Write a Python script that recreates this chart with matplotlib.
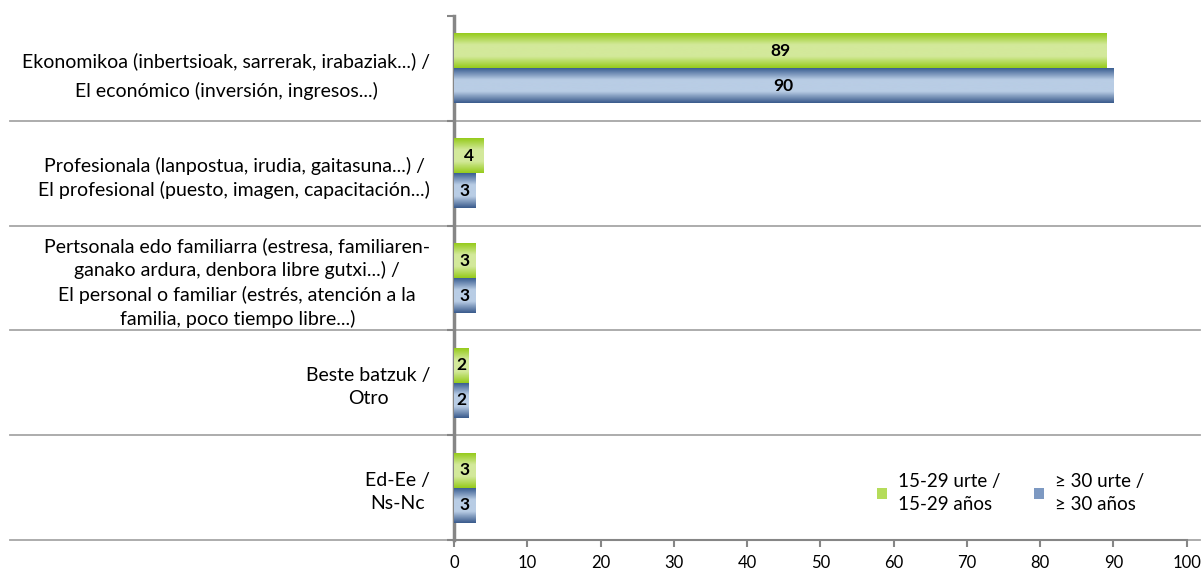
import numpy as np
import matplotlib.pyplot as plt
from matplotlib.patches import Patch
from matplotlib.colors import LinearSegmentedColormap
import matplotlib.transforms as mtransforms

plt.rcParams['font.family'] = ['Lato', 'DejaVu Sans']

categories = [
    "Ekonomikoa (inbertsioak, sarrerak, irabaziak...) /\nEl económico (inversión, ingresos...)",
    "Profesionala (lanpostua, irudia, gaitasuna...) /\nEl profesional (puesto, imagen, capacitación...)",
    "Pertsonala edo familiarra (estresa, familiaren-\nganako ardura, denbora libre gutxi...) /\nEl personal o familiar (estrés, atención a la\nfamilia, poco tiempo libre...)",
    "Beste batzuk /\nOtro",
    "Ed-Ee /\nNs-Nc",
]
young = [89, 4, 3, 2, 3]
older = [90, 3, 3, 2, 3]
series_names = ["15-29 urte /\n15-29 años", "≥ 30 urte /\n≥ 30 años"]
xticks = list(range(0, 101, 10))

green_cm = LinearSegmentedColormap.from_list("g", ["#96cb1c", "#d3e99b", "#d3e99b", "#96cb1c"])
blue_cm = LinearSegmentedColormap.from_list("b", ["#3c5f92", "#b9cde5", "#b9cde5", "#3a5b8c"])

fig = plt.figure(figsize=(12.01, 5.71), dpi=100)
ax = fig.add_axes([0.378, 0.054, 0.610, 0.918])

y = np.arange(len(categories))
h = 1 / 3
bars_y = ax.barh(y - h / 2, young, height=h, color="#c0e070", zorder=2)
bars_o = ax.barh(y + h / 2, older, height=h, color="#a0b8d8", zorder=2)

grad = np.linspace(0, 1, 64).reshape(-1, 1)
for bars, cm in [(bars_y, green_cm), (bars_o, blue_cm)]:
    for p in bars:
        x0, y0, w, hh = p.get_x(), p.get_y(), p.get_width(), p.get_height()
        im = ax.imshow(grad, cmap=cm, extent=[x0, x0 + w, y0 + hh, y0],
                       aspect='auto', interpolation='bicubic', zorder=3)
        im.set_clip_path(p)
        ax.text(x0 + w / 2, y0 + hh / 2, f"{w:g}", ha='center', va='center',
                fontsize=12.5, fontweight='bold', color='black', zorder=4)

ax.set_xlim(0, 100)
ax.set_ylim(len(categories) - 0.5, -0.5)
ax.set_xticks(xticks)
ax.tick_params(axis='x', length=5, width=1.5, color='#868686', labelsize=12, pad=6)
ax.set_yticks(y)
ticklabels = ax.set_yticklabels(categories, fontsize=14, linespacing=1.42,
                                multialignment='center')
ticklabels[0].set_linespacing(1.8)  # first label sits looser in the original
ax.tick_params(axis='y', length=0, pad=17)
ax.set_yticks(np.arange(len(categories) + 1) - 0.5, minor=True)
ax.tick_params(axis='y', which='minor', length=5, width=1.5, color='#868686')

for s in ['top', 'right']:
    ax.spines[s].set_visible(False)
ax.spines['left'].set_color('#868686')
ax.spines['left'].set_linewidth(2.5)
ax.spines['bottom'].set_color('#868686')
ax.spines['bottom'].set_linewidth(1.5)

# category separators extending into the label area
trans = mtransforms.blended_transform_factory(ax.transAxes, ax.transData)
for b in np.arange(1, len(categories) + 1) - 0.5:
    ax.plot([-0.606, 1.018], [b, b], transform=trans, color='#a6a6a6',
            lw=1.3, clip_on=False, zorder=1)

handles = [Patch(facecolor="#b5dc5a", edgecolor='none'),
           Patch(facecolor="#7d99c2", edgecolor='none')]
leg = ax.legend(handles, series_names, loc='center left', bbox_to_anchor=(0.555, 0.09),
                ncol=2, frameon=False, fontsize=13.5, handlelength=0.5, handleheight=0.5,
                handletextpad=0.6, columnspacing=1.8, labelspacing=0.3)
for t in leg.get_texts():
    t.set_linespacing(1.4)

fig.savefig("out.png", dpi=100)
